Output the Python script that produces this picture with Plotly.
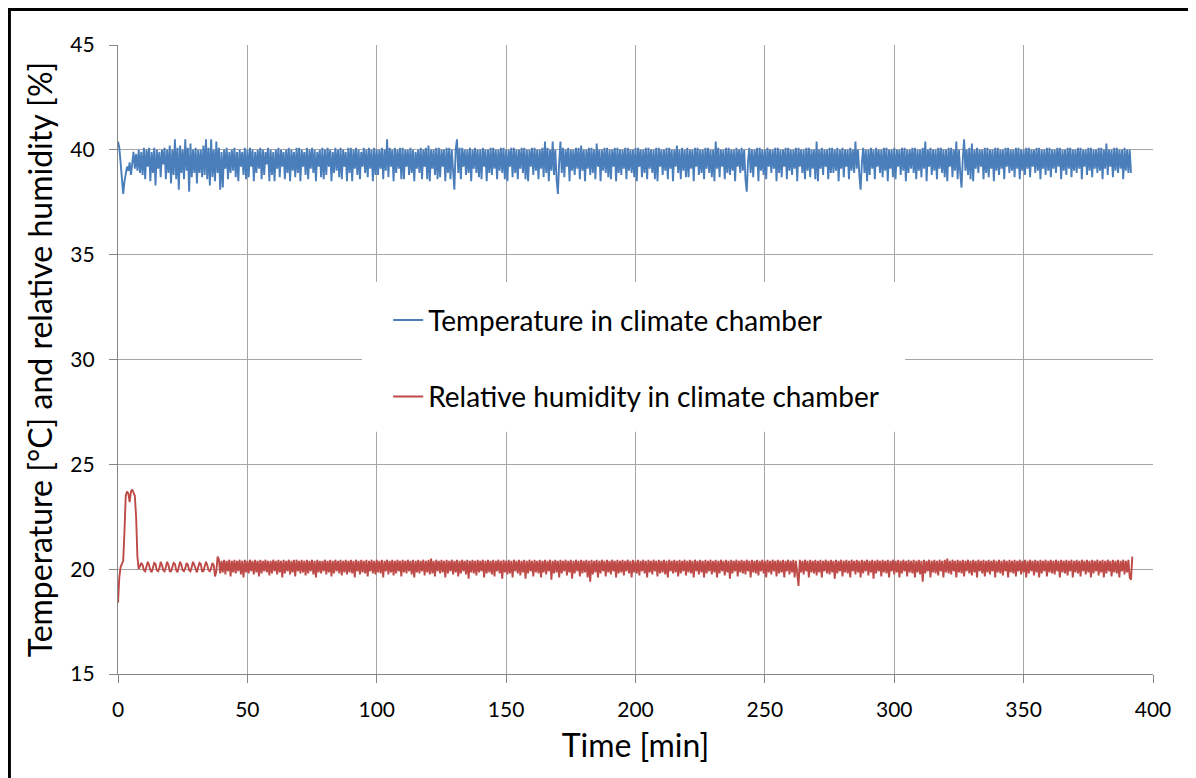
import plotly.graph_objects as go

# ---------------- data ----------------
TEMP_START_MIN = 0.0
TEMP_STEP_MIN = 0.5
temperature = [
    40.4, 40.1, 39.4, 38.6, 37.9, 38.5, 38.9, 39.2, 39.0, 39.4, 38.8, 39.3, 39.9, 39.1, 39.8, 39.0, 40.0, 38.9, 39.9, 38.8,
    40.1, 38.6, 40.0, 39.2, 40.1, 38.5, 39.9, 38.9, 40.1, 38.3, 40.0, 39.1, 39.9, 38.7, 40.0, 39.3, 40.1, 38.6, 40.0, 38.9,
    40.2, 38.4, 40.0, 38.8, 40.5, 38.6, 40.1, 38.1, 40.2, 38.9, 40.0, 38.6, 40.5, 39.0, 40.1, 38.0, 40.3, 38.7, 40.0, 38.9,
    40.1, 38.4, 40.0, 38.9, 40.0, 38.7, 40.2, 38.8, 40.5, 38.6, 40.1, 38.3, 40.5, 38.7, 40.0, 38.5, 40.4, 38.9, 40.1, 38.1,
    39.9, 38.2, 40.0, 39.1, 40.1, 38.6, 39.9, 38.9, 40.0, 39.0, 40.1, 38.7, 39.9, 38.5, 40.0, 39.2, 39.9, 38.8, 40.1, 38.6,
    40.0, 38.7, 40.1, 39.2, 40.0, 38.5, 39.9, 38.9, 40.0, 39.1, 40.1, 38.6, 40.0, 38.8, 39.9, 39.3, 40.1, 38.5, 40.0, 38.8,
    39.9, 38.5, 40.0, 39.1, 40.1, 38.7, 40.0, 39.2, 39.9, 38.6, 40.0, 38.9, 40.1, 38.5, 40.0, 39.0, 39.9, 38.7, 40.1, 38.9,
    40.1, 38.5, 40.0, 39.2, 39.9, 38.8, 40.1, 38.6, 40.0, 39.1, 40.1, 38.9, 40.0, 38.5, 39.9, 39.2, 40.0, 38.7, 40.1, 38.6,
    40.0, 38.8, 40.1, 39.2, 40.0, 38.5, 39.9, 38.9, 40.1, 39.0, 40.0, 38.7, 40.1, 38.6, 40.0, 39.2, 39.9, 38.5, 40.1, 38.9,
    40.1, 38.5, 40.0, 39.1, 40.1, 38.8, 40.0, 38.6, 39.9, 39.2, 40.1, 38.9, 40.0, 38.7, 40.1, 39.1, 40.0, 38.5, 40.1, 38.8,
    40.0, 38.8, 40.0, 39.1, 40.1, 38.6, 40.0, 39.0, 40.5, 38.7, 40.1, 39.2, 40.0, 38.5, 40.1, 38.9, 40.0, 39.1, 40.1, 38.6,
    40.1, 38.6, 40.0, 39.2, 40.0, 38.8, 40.1, 38.9, 40.0, 38.5, 39.9, 39.1, 40.0, 38.9, 40.1, 38.6, 40.0, 39.2, 40.1, 38.6,
    40.2, 38.5, 40.0, 39.1, 40.0, 38.8, 40.1, 38.6, 40.1, 38.7, 40.0, 39.2, 40.0, 38.5, 40.1, 38.9, 40.1, 38.6, 40.0, 39.0,
    38.1, 40.0, 40.5, 38.9, 40.1, 38.6, 40.1, 39.2, 40.0, 38.8, 40.0, 38.9, 40.1, 38.5, 40.0, 39.1, 40.1, 38.9, 40.0, 38.7,
    40.0, 38.6, 40.1, 39.2, 40.0, 38.5, 40.0, 38.9, 40.1, 38.8, 40.1, 39.1, 40.0, 38.6, 40.0, 39.0, 40.1, 38.9, 40.1, 38.6,
    40.0, 38.5, 40.0, 39.2, 40.1, 38.7, 40.1, 38.9, 40.0, 38.6, 40.0, 39.1, 40.1, 38.9, 40.1, 38.6, 40.0, 38.5, 40.0, 39.2,
    40.1, 38.8, 40.1, 39.0, 40.0, 38.6, 40.0, 39.1, 40.1, 38.7, 40.4, 38.9, 40.1, 38.5, 40.0, 39.0, 40.4, 38.8, 40.0, 38.6,
    37.9, 39.4, 40.4, 38.9, 40.1, 38.7, 40.0, 39.2, 40.1, 38.5, 40.0, 39.0, 40.0, 38.8, 40.1, 39.1, 40.1, 38.6, 40.2, 39.0,
    40.0, 38.5, 40.0, 39.1, 40.1, 38.8, 40.1, 38.9, 40.0, 38.6, 40.3, 39.2, 40.0, 38.5, 40.0, 39.0, 40.1, 38.9, 40.1, 38.7,
    40.0, 38.6, 40.0, 39.2, 40.1, 38.5, 40.1, 38.9, 40.0, 38.8, 40.0, 39.1, 40.1, 38.6, 40.1, 39.0, 40.0, 38.9, 40.0, 38.7,
    40.1, 38.5, 40.1, 39.2, 40.0, 38.7, 40.0, 38.9, 40.1, 38.6, 40.1, 39.1, 40.0, 38.9, 40.0, 38.6, 40.1, 38.5, 40.1, 39.2,
    40.0, 38.8, 40.0, 39.0, 40.1, 38.6, 40.1, 39.1, 40.0, 38.5, 40.0, 39.2, 40.2, 38.9, 40.0, 38.6, 40.1, 39.0, 40.0, 38.7,
    40.1, 38.7, 40.0, 39.1, 40.0, 38.5, 40.1, 39.2, 40.1, 38.8, 40.0, 38.9, 40.0, 38.6, 40.1, 39.1, 40.1, 38.9, 40.0, 38.7,
    40.0, 38.5, 40.4, 39.1, 40.1, 38.7, 40.0, 39.2, 40.0, 38.6, 40.1, 38.9, 40.1, 38.8, 40.0, 39.0, 40.0, 38.5, 40.1, 39.2,
    40.0, 38.9, 40.1, 39.0, 40.0, 38.6, 38.0, 39.5, 40.1, 38.9, 40.0, 38.7, 40.0, 39.2, 40.1, 38.5, 40.1, 39.0, 40.0, 38.8,
    40.0, 38.6, 40.1, 39.2, 40.0, 38.9, 40.0, 39.1, 40.1, 38.5, 40.1, 38.9, 40.0, 38.7, 40.0, 39.2, 40.1, 38.6, 40.1, 39.0,
    40.0, 38.8, 40.0, 39.1, 40.1, 38.5, 40.1, 39.2, 40.0, 38.9, 40.0, 38.6, 40.1, 39.0, 40.1, 38.7, 40.0, 39.1, 40.0, 38.6,
    40.4, 38.5, 40.0, 39.1, 40.1, 38.8, 40.0, 39.2, 40.0, 38.6, 40.1, 38.9, 40.1, 38.9, 40.0, 39.0, 40.1, 38.5, 40.0, 39.1,
    40.1, 38.7, 40.0, 39.2, 40.0, 38.6, 40.1, 39.0, 40.0, 38.9, 40.4, 39.1, 40.0, 38.8, 38.1, 39.4, 40.1, 38.9, 40.0, 38.5,
    40.0, 38.8, 40.1, 39.1, 40.0, 38.6, 40.1, 39.2, 40.0, 38.9, 40.0, 38.7, 40.1, 39.0, 40.1, 38.5, 40.0, 39.1, 40.0, 38.7,
    40.1, 38.6, 40.0, 39.2, 40.0, 38.8, 40.1, 39.0, 40.1, 38.5, 40.0, 38.9, 40.0, 39.1, 40.1, 38.9, 40.1, 38.6, 40.0, 39.0,
    40.0, 38.7, 40.1, 39.1, 40.4, 38.5, 40.0, 39.2, 40.1, 38.8, 40.0, 39.0, 40.0, 38.6, 40.1, 39.1, 40.1, 38.9, 40.0, 38.7,
    40.0, 38.5, 40.1, 39.2, 40.1, 38.7, 40.0, 39.0, 40.4, 38.6, 40.0, 38.9, 38.2, 39.6, 40.5, 39.0, 40.0, 38.8, 40.1, 38.6,
    40.3, 38.5, 40.0, 39.1, 40.1, 38.9, 40.0, 39.2, 40.0, 38.6, 40.1, 38.9, 40.1, 38.7, 40.0, 39.1, 40.0, 38.5, 40.1, 39.0,
    40.1, 38.8, 40.0, 39.1, 40.0, 38.6, 40.1, 39.2, 40.1, 38.9, 40.0, 39.0, 40.0, 38.7, 40.1, 39.1, 40.1, 38.6, 40.0, 39.0,
    40.0, 38.8, 40.1, 39.1, 40.1, 38.7, 40.0, 39.2, 40.0, 38.9, 40.1, 39.0, 40.1, 38.6, 40.0, 39.1, 40.0, 38.8, 40.1, 39.0,
    40.1, 38.7, 40.0, 39.1, 40.0, 38.9, 40.1, 39.2, 40.1, 38.6, 40.0, 39.0, 40.0, 38.8, 40.1, 39.1, 40.1, 38.7, 40.0, 39.0,
    40.0, 38.9, 40.1, 39.1, 40.1, 38.6, 40.0, 39.2, 40.0, 38.8, 40.1, 39.0, 40.1, 38.7, 40.0, 39.1, 40.0, 38.9, 40.1, 39.0,
    40.1, 38.6, 40.0, 39.1, 40.3, 38.8, 40.0, 39.2, 40.0, 38.7, 40.1, 39.0, 40.1, 38.9, 40.0, 39.1, 40.0, 38.6, 40.1, 39.0,
    40.0, 38.9, 40.0, 38.9,
]

# start-up transient of the humidity (irregular sample times)
humidity_start_time = [0.0, 0.5, 1.0, 1.5, 2.0, 2.5, 3.0, 3.5, 4.0, 4.5,
                       5.0, 5.5, 6.0, 6.5, 7.0, 7.5, 8.0]
humidity_start = [18.4, 19.6, 20.1, 20.3, 20.4, 21.8, 23.5, 23.7, 23.6, 23.2,
                  23.7, 23.8, 23.6, 23.5, 22.5, 20.6, 20.0]

HUM_START_MIN = 9.0
HUM_STEP_MIN = 0.5
humidity = [
    20.3, 20.2, 19.95, 19.9, 20.1, 20.35, 20.2, 19.95, 19.85, 20.1, 20.3, 20.25, 19.95, 19.9, 20.05, 20.35, 20.2, 19.95, 19.9, 20.1,
    20.35, 20.2, 19.9, 19.9, 20.1, 20.3, 20.25, 19.95, 19.85, 20.1, 20.35, 20.2, 19.95, 19.9, 20.05, 20.3, 20.2, 19.95, 19.9, 20.1,
    20.35, 20.2, 19.95, 19.85, 20.1, 20.3, 20.25, 19.9, 19.9, 20.1, 20.35, 20.2, 19.95, 19.9, 20.05, 20.3, 20.2, 19.65, 19.9, 20.6,
    20.45, 19.8, 20.4, 19.85, 20.45, 19.75, 20.4, 19.9, 20.45, 19.65, 20.4, 19.85, 20.45, 19.8, 20.4, 19.9, 20.45, 19.75, 20.4, 19.6,
    20.45, 19.85, 20.4, 19.8, 20.45, 19.9, 20.4, 19.75, 20.45, 19.85, 20.4, 19.65, 20.45, 19.8, 20.4, 19.9, 20.45, 19.85, 20.4, 19.7,
    20.4, 19.8, 20.45, 19.9, 20.4, 19.75, 20.45, 19.85, 20.4, 19.6, 20.45, 19.8, 20.4, 19.9, 20.45, 19.75, 20.4, 19.85, 20.45, 19.65,
    20.45, 19.9, 20.4, 19.8, 20.45, 19.85, 20.4, 19.7, 20.45, 19.8, 20.4, 19.9, 20.45, 19.75, 20.4, 19.6, 20.45, 19.85, 20.4, 19.8,
    20.4, 19.9, 20.45, 19.75, 20.4, 19.85, 20.45, 19.65, 20.4, 19.8, 20.45, 19.9, 20.4, 19.8, 20.45, 19.7, 20.4, 19.85, 20.45, 19.75,
    20.4, 19.85, 20.45, 19.8, 20.4, 19.6, 20.45, 19.9, 20.4, 19.75, 20.45, 19.85, 20.4, 19.8, 20.45, 19.65, 20.4, 19.9, 20.45, 19.8,
    20.4, 19.75, 20.45, 19.85, 20.4, 19.8, 20.45, 19.6, 20.4, 19.9, 20.45, 19.75, 20.4, 19.85, 20.45, 19.7, 20.4, 19.8, 20.45, 19.9,
    20.4, 19.65, 20.45, 19.85, 20.4, 19.8, 20.45, 19.9, 20.4, 19.75, 20.45, 19.6, 20.4, 19.85, 20.45, 19.8, 20.4, 19.9, 20.45, 19.7,
    20.4, 19.85, 20.45, 19.75, 20.5, 19.8, 20.4, 19.65, 20.45, 19.9, 20.4, 19.8, 20.45, 19.85, 20.4, 19.6, 20.45, 19.8, 20.4, 19.9,
    20.45, 19.75, 20.4, 19.85, 20.45, 19.65, 20.4, 19.8, 20.45, 19.9, 20.4, 19.75, 20.45, 19.55, 20.4, 19.85, 20.45, 19.8, 20.4, 19.7,
    20.45, 19.85, 20.4, 19.9, 20.45, 19.6, 20.4, 19.8, 20.45, 19.85, 20.4, 19.75, 20.45, 19.65, 20.4, 19.9, 20.45, 19.8, 20.4, 19.55,
    20.45, 19.85, 20.4, 19.75, 20.45, 19.8, 20.4, 19.6, 20.45, 19.9, 20.4, 19.8, 20.45, 19.7, 20.4, 19.85, 20.45, 19.55, 20.4, 19.8,
    20.45, 19.9, 20.4, 19.65, 20.45, 19.85, 20.4, 19.8, 20.45, 19.6, 20.4, 19.85, 20.45, 19.75, 20.4, 19.9, 20.45, 19.5, 20.4, 19.8,
    20.45, 19.85, 20.4, 19.6, 20.45, 19.8, 20.4, 19.9, 20.45, 19.7, 20.4, 19.85, 20.45, 19.55, 20.4, 19.8, 20.45, 19.9, 20.4, 19.65,
    20.45, 19.8, 20.4, 19.85, 20.45, 19.6, 20.4, 19.4, 20.45, 19.75, 20.4, 19.85, 20.45, 19.6, 20.4, 19.8, 20.45, 19.9, 20.4, 19.65,
    20.45, 19.85, 20.4, 19.75, 20.45, 19.9, 20.4, 19.6, 20.45, 19.8, 20.4, 19.85, 20.45, 19.7, 20.4, 19.9, 20.45, 19.8, 20.4, 19.6,
    20.45, 19.85, 20.4, 19.8, 20.45, 19.7, 20.4, 19.9, 20.45, 19.8, 20.4, 19.6, 20.45, 19.85, 20.4, 19.75, 20.45, 19.9, 20.4, 19.65,
    20.45, 19.8, 20.4, 19.85, 20.45, 19.75, 20.4, 19.6, 20.45, 19.9, 20.4, 19.8, 20.45, 19.85, 20.4, 19.65, 20.45, 19.8, 20.4, 19.9,
    20.45, 19.7, 20.4, 19.85, 20.45, 19.8, 20.4, 19.6, 20.45, 19.9, 20.4, 19.75, 20.45, 19.85, 20.4, 19.6, 20.45, 19.8, 20.4, 19.9,
    20.45, 19.75, 20.4, 19.85, 20.45, 19.6, 20.4, 19.8, 20.45, 19.9, 20.4, 19.7, 20.45, 19.85, 20.4, 19.55, 20.45, 19.8, 20.4, 19.9,
    20.45, 19.65, 20.4, 19.85, 20.45, 19.8, 20.4, 19.75, 20.45, 19.9, 20.4, 19.6, 20.45, 19.85, 20.4, 19.8, 20.45, 19.7, 20.4, 19.9,
    20.45, 19.8, 20.4, 19.6, 20.45, 19.85, 20.4, 19.75, 20.45, 19.9, 20.4, 19.65, 20.45, 19.8, 20.4, 19.85, 20.45, 19.6, 20.4, 19.9,
    20.45, 19.75, 20.4, 19.85, 20.45, 19.6, 20.4, 19.8, 19.2, 20.45, 19.85, 20.4, 19.75, 20.45, 19.9, 20.4, 19.6, 20.45, 19.85, 20.4,
    19.8, 20.45, 19.7, 20.4, 19.85, 20.45, 19.6, 20.4, 19.9, 20.45, 19.8, 20.4, 19.75, 20.45, 19.85, 20.4, 19.55, 20.45, 19.8, 20.4,
    19.9, 20.45, 19.65, 20.4, 19.85, 20.45, 19.8, 20.4, 19.6, 20.45, 19.9, 20.4, 19.75, 20.45, 19.85, 20.4, 19.6, 20.45, 19.8, 20.4,
    19.9, 20.45, 19.7, 20.4, 19.85, 20.45, 19.55, 20.4, 19.8, 20.45, 19.9, 20.4, 19.65, 20.45, 19.85, 20.4, 19.8, 20.45, 19.6, 20.4,
    19.9, 20.45, 19.75, 20.4, 19.85, 20.45, 19.6, 20.4, 19.8, 20.45, 19.9, 20.4, 19.65, 20.45, 19.85, 20.4, 19.8, 20.45, 19.6, 20.4,
    19.85, 20.45, 19.75, 20.4, 19.4, 20.45, 19.8, 20.4, 19.9, 20.45, 19.6, 20.4, 19.85, 20.45, 19.8, 20.4, 19.7, 20.45, 19.9, 20.4,
    19.6, 20.45, 19.85, 20.5, 19.8, 20.4, 19.75, 20.45, 19.9, 20.4, 19.6, 20.45, 19.85, 20.4, 19.8, 20.45, 19.65, 20.4, 19.9, 20.45,
    19.8, 20.4, 19.7, 20.45, 19.85, 20.4, 19.6, 20.45, 19.9, 20.4, 19.8, 20.45, 19.65, 20.4, 19.85, 20.45, 19.75, 20.4, 19.9, 20.45,
    19.6, 20.4, 19.85, 20.45, 19.8, 20.4, 19.7, 20.45, 19.9, 20.4, 19.6, 20.45, 19.85, 20.4, 19.8, 20.45, 19.65, 20.4, 19.9, 20.45,
    19.75, 20.4, 19.85, 20.45, 19.6, 20.4, 19.8, 20.45, 19.9, 20.4, 19.7, 20.45, 19.85, 20.4, 19.6, 20.45, 19.8, 20.4, 19.9, 20.45,
    19.65, 20.4, 19.85, 20.45, 19.8, 20.4, 19.75, 20.45, 19.9, 20.4, 19.6, 20.45, 19.85, 20.4, 19.8, 20.45, 19.7, 20.4, 19.9, 20.45,
    19.6, 20.4, 19.85, 20.45, 19.8, 20.4, 19.65, 20.45, 19.9, 20.4, 19.75, 20.45, 19.85, 20.4, 19.6, 20.45, 19.8, 20.4, 19.9, 20.45,
    19.7, 20.4, 19.85, 20.45, 19.6, 20.4, 19.8, 20.45, 19.9, 20.4, 19.65, 20.45, 19.85, 20.4, 19.8, 20.45, 19.6, 20.4, 19.9, 20.45,
    19.75, 20.4, 19.85, 20.45, 19.6, 19.5, 20.6,
]

x_ticks = [0, 50, 100, 150, 200, 250, 300, 350, 400]
y_ticks = [15, 20, 25, 30, 35, 40, 45]

series_names = ["Temperature in climate chamber",
                "Relative humidity in climate chamber"]
x_title = "Time [min]"
y_title = "Temperature [°C] and relative humidity [%]"

# ---------------- build ----------------
temp_time = [TEMP_START_MIN + i * TEMP_STEP_MIN for i in range(len(temperature))]
hum_time = humidity_start_time + [HUM_START_MIN + i * HUM_STEP_MIN for i in range(len(humidity))]
hum_vals = humidity_start + humidity

FONT = "Lato"
BLUE = "#4A7EBB"
RED = "#BE4B48"
GRID = "#A6A6A6"
AXIS = "#868686"

fig = go.Figure()
fig.add_trace(go.Scatter(x=temp_time, y=temperature, mode="lines",
                         name=series_names[0], legendgroup="t",
                         line=dict(color=BLUE, width=1.9)))
fig.add_trace(go.Scatter(x=hum_time, y=hum_vals, mode="lines",
                         name=series_names[1], legendgroup="h",
                         line=dict(color=RED, width=1.9)))

fig.update_layout(
    width=1196, height=778,
    margin=dict(l=110, r=51, t=37, b=112),
    paper_bgcolor="white", plot_bgcolor="white",
    font=dict(family=FONT, color="black"),
    showlegend=True,
    legend=dict(x=0.261, y=0.602, xanchor="left", yanchor="top",
                bgcolor="rgba(0,0,0,0)", borderwidth=0,
                font=dict(family=FONT, size=28, color="black"),
                tracegroupgap=37, itemwidth=30),
    xaxis=dict(range=[0, 400], tickvals=x_ticks, showgrid=True,
               gridcolor=GRID, gridwidth=1, zeroline=False,
               showline=True, linecolor=AXIS, linewidth=1.3,
               ticks="outside", ticklen=8, tickcolor=AXIS,
               ticklabelstandoff=9,
               tickfont=dict(family=FONT, size=21, color="black"),
               title=dict(text=x_title, standoff=14,
                          font=dict(family=FONT, size=32, color="black"))),
    yaxis=dict(range=[15, 45], tickvals=y_ticks, showgrid=True,
               gridcolor=GRID, gridwidth=1, zeroline=False,
               showline=True, linecolor=AXIS, linewidth=1.3,
               ticks="outside", ticklen=8, tickcolor=AXIS,
               ticklabelstandoff=10,
               tickfont=dict(family=FONT, size=21, color="black"),
               title=dict(text=y_title, standoff=8,
                          font=dict(family=FONT, size=32, color="black"))),
    shapes=[
        # white legend panel hiding the gridlines behind the legend
        dict(type="rect", xref="x", yref="y", x0=94.3, x1=304.2, y0=26.55, y1=33.7,
             fillcolor="white", line=dict(width=0), layer="between"),
        # outer chart frame (left and top edges visible)
        dict(type="path", xref="paper", yref="paper",
             path="M -0.1049,-0.2 L -0.1049,1.0564 L 1.1,1.0564",
             line=dict(color="black", width=3)),
    ],
)

fig.write_html("out.html")
